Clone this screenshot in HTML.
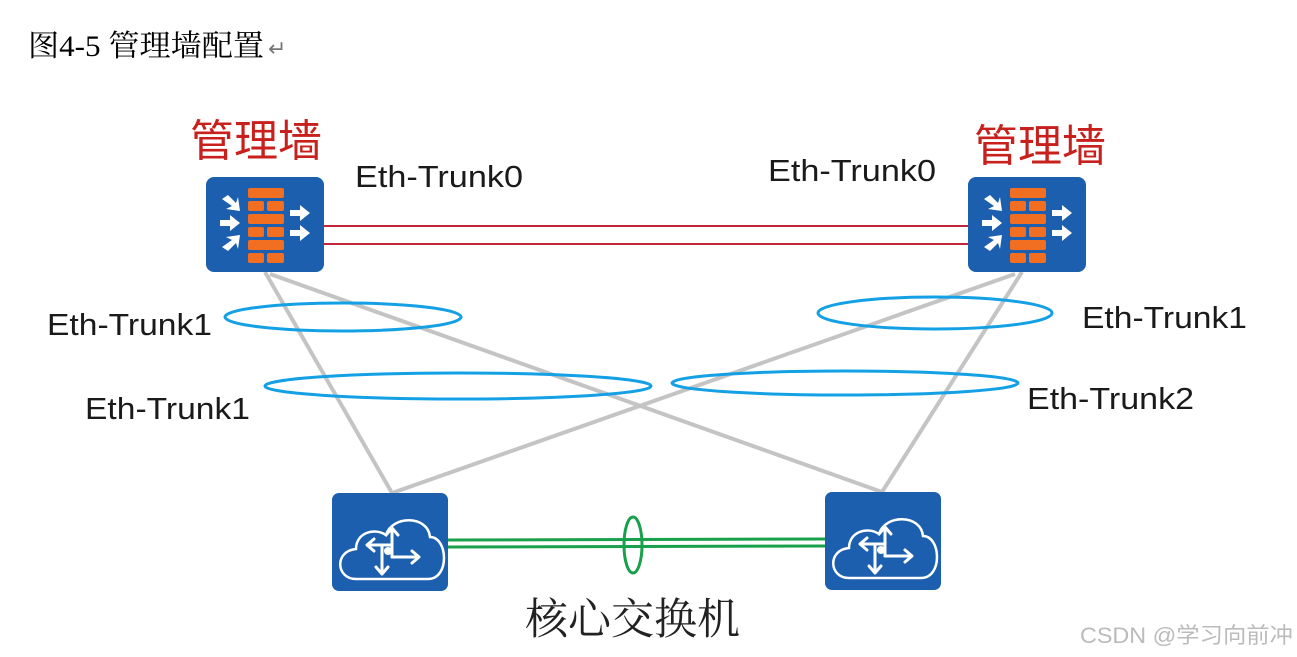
<!DOCTYPE html>
<html><head><meta charset="utf-8"><style>
html,body{margin:0;padding:0;background:#fff;}
svg{display:block}
.e{font-family:"Liberation Sans","DejaVu Sans",sans-serif;font-size:31px;fill:#1a1a1a}
</style></head><body>
<svg width="1297" height="657" viewBox="0 0 1297 657" xmlns="http://www.w3.org/2000/svg">
<defs>
<g id="fw">
<rect x="0" y="0" width="118" height="95" rx="8" fill="#1b5fae"/>
<g fill="#f26f21">
<rect x="42" y="11" width="36" height="10" rx="2"/>
<rect x="42" y="24" width="16" height="10" rx="2"/><rect x="61" y="24" width="17" height="10" rx="2"/>
<rect x="42" y="37" width="36" height="10" rx="2"/>
<rect x="42" y="50" width="16" height="10" rx="2"/><rect x="61" y="50" width="17" height="10" rx="2"/>
<rect x="42" y="63" width="36" height="10" rx="2"/>
<rect x="42" y="76" width="16" height="10" rx="2"/><rect x="61" y="76" width="17" height="10" rx="2"/>
</g>
<g fill="#fff">
<polygon points="16,22 22,18 30,26 32,20 34,34 20,32 26,29"/>
<polygon points="14,43 24,43 24,38 34,46 24,54 24,49 14,49"/>
<polygon points="16,70 22,74 30,66 32,72 34,58 20,60 26,63"/>
<polygon points="84,33 94,33 94,28 104,36 94,44 94,39 84,39"/>
<polygon points="84,53 94,53 94,48 104,56 94,64 94,59 84,59"/>
</g>
</g>
<g id="sw">
<rect x="0" y="0" width="116" height="98" rx="7" fill="#1b5fae"/>
<path d="M24,86 C4,86 2,58 24,56 C24,40 42,34 54,42 C60,22 96,22 98,44 C116,44 118,86 96,86 Z" fill="none" stroke="#fff" stroke-width="2.5"/>
<g stroke="#fff" stroke-width="3" fill="none" stroke-linecap="round" stroke-linejoin="round">
<line x1="60" y1="64" x2="60" y2="36"/><polyline points="54,42 60,35 66,42"/>
<line x1="60" y1="64" x2="86" y2="64"/><polyline points="80,58 87,64 80,70"/>
<line x1="60" y1="52" x2="36" y2="52"/><polyline points="42,46 35,52 42,58"/>
<line x1="50" y1="52" x2="50" y2="80"/><polyline points="44,74 50,81 56,74"/>
</g>
<circle cx="56" cy="58" r="4" fill="#fff"/>
</g>
</defs>
<text x="28" y="56" font-family="'Liberation Serif','Noto Serif CJK SC',serif" font-size="30" fill="#000" textLength="236" lengthAdjust="spacingAndGlyphs">图4-5 管理墙配置</text>
<text x="268" y="56" font-family="'Liberation Sans',sans-serif" font-size="22" fill="#777">↵</text>
<text x="190" y="156" font-family="'Liberation Sans','Noto Sans CJK SC',sans-serif" font-size="44" fill="#c8201c">管理墙</text>
<text x="974" y="161" font-family="'Liberation Sans','Noto Sans CJK SC',sans-serif" font-size="44" fill="#c8201c">管理墙</text>
<g lengthAdjust="spacingAndGlyphs">
<text class="e" x="355" y="187" textLength="168" lengthAdjust="spacingAndGlyphs">Eth-Trunk0</text>
<text class="e" x="768" y="181" textLength="168" lengthAdjust="spacingAndGlyphs">Eth-Trunk0</text>
<text class="e" x="47" y="335" textLength="165" lengthAdjust="spacingAndGlyphs">Eth-Trunk1</text>
<text class="e" x="85" y="419" textLength="165" lengthAdjust="spacingAndGlyphs">Eth-Trunk1</text>
<text class="e" x="1082" y="328" textLength="165" lengthAdjust="spacingAndGlyphs">Eth-Trunk1</text>
<text class="e" x="1027" y="409" textLength="167" lengthAdjust="spacingAndGlyphs">Eth-Trunk2</text>
</g>
<line x1="324" y1="226" x2="968" y2="226" stroke="#c0283a" stroke-width="2"/>
<line x1="324" y1="244" x2="968" y2="244" stroke="#c0283a" stroke-width="2"/>
<g stroke="#c4c4c4" stroke-width="4">
<line x1="265" y1="272" x2="392" y2="493"/>
<line x1="270" y1="274" x2="882" y2="492"/>
<line x1="1022" y1="272" x2="882" y2="492"/>
<line x1="1015" y1="274" x2="392" y2="493"/>
</g>
<g fill="none" stroke="#14a0e4" stroke-width="3">
<ellipse cx="343" cy="317" rx="118" ry="14"/>
<ellipse cx="458" cy="386" rx="193" ry="13"/>
<ellipse cx="935" cy="313" rx="117" ry="16"/>
<ellipse cx="845" cy="383" rx="173" ry="12"/>
</g>
<use href="#fw" x="206" y="177"/>
<use href="#fw" x="968" y="177"/>
<line x1="447" y1="540" x2="825" y2="539" stroke="#18a04a" stroke-width="3"/>
<line x1="447" y1="547" x2="825" y2="546" stroke="#18a04a" stroke-width="3"/>
<ellipse cx="633" cy="545" rx="9" ry="28" fill="none" stroke="#18a04a" stroke-width="3"/>
<use href="#sw" x="332" y="493"/>
<use href="#sw" x="825" y="492"/>
<text x="525" y="634" font-family="'Liberation Serif','Noto Serif CJK SC',serif" font-size="43" fill="#222">核心交换机</text>
<text x="1080" y="643" font-family="'Liberation Sans','Noto Sans CJK SC',sans-serif" font-size="22" fill="#bbb" textLength="213" lengthAdjust="spacingAndGlyphs">CSDN @学习向前冲</text>
</svg>
</body></html>
